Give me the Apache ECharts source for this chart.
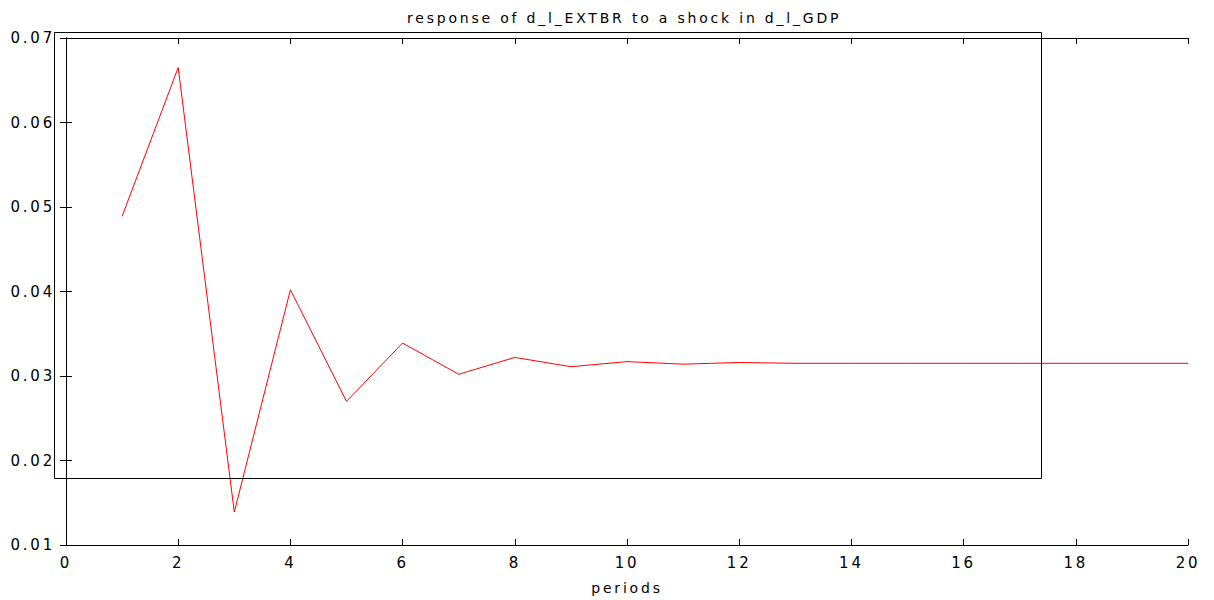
<!DOCTYPE html>
<html>
<head>
<meta charset="utf-8">
<script src="https://cdn.jsdelivr.net/npm/echarts@6/dist/echarts.min.js"></script>
<style>
html, body { margin: 0; padding: 0; background: #fff; }
#main { width: 1214px; height: 600px; }
/* the reference uses a wide, spaced-out font */
#main svg text { letter-spacing: 2.8px; }
</style>
</head>
<body>
<div id="main"></div>
<script>
var titleText = 'response of d_l_EXTBR to a shock in d_l_GDP';
var xName = 'periods';
var periods = [1, 2, 3, 4, 5, 6, 7, 8, 9, 10, 11, 12, 13, 14, 15, 16, 17, 18, 19, 20];
var response = [0.0489, 0.0665, 0.0139, 0.0402, 0.0270, 0.0339, 0.0302, 0.0322, 0.0311, 0.0317,
	0.0314, 0.0316, 0.0315, 0.0315, 0.0315, 0.0315, 0.0315, 0.0315, 0.0315, 0.0315];

var myChart = echarts.init(document.getElementById('main'), null, { renderer: 'svg' });
var font = 'DejaVu Sans';
var lineData = periods.map(function(p, i) { return [p, response[i]]; });

var option = {
	animation: false,
	title: {
		text: titleText,
		left: 402,
		top: 6,
		textStyle: { fontFamily: font, fontSize: 14, fontWeight: 'normal', color: '#000' }
	},
	grid: { left: 66, right: 26, top: 38, bottom: 54 },
	xAxis: [{
		type: 'value',
		min: 0, max: 20, interval: 2,
		name: xName,
		nameLocation: 'middle',
		nameGap: 36,
		nameTextStyle: { fontFamily: font, fontSize: 14, color: '#000' },
		axisLine: { lineStyle: { color: '#000' } },
		axisTick: { inside: true, length: 6, lineStyle: { color: '#000' } },
		axisLabel: { fontFamily: font, fontSize: 15, color: '#000', margin: 10 },
		splitLine: { show: false }
	}, {
		type: 'value',
		position: 'top',
		min: 0, max: 20, interval: 2,
		axisLine: { lineStyle: { color: '#000' } },
		axisTick: { inside: true, length: 6, lineStyle: { color: '#000' } },
		axisLabel: { show: false },
		splitLine: { show: false }
	}],
	yAxis: [{
		type: 'value',
		min: 0.01, max: 0.07, interval: 0.01,
		axisLine: { show: true, lineStyle: { color: '#000' } },
		axisTick: { show: true, inside: true, length: 6, lineStyle: { color: '#000' } },
		axisLabel: {
			fontFamily: font, fontSize: 15, color: '#000', margin: 11,
			formatter: function(v) { return v.toFixed(2); }
		},
		splitLine: { show: false }
	}, {
		type: 'value',
		position: 'right',
		min: 0.01, max: 0.07, interval: 0.01,
		axisLine: { show: true, lineStyle: { color: '#000' } },
		axisTick: { show: true, inside: true, length: 6, lineStyle: { color: '#000' } },
		axisLabel: { show: false },
		splitLine: { show: false }
	}],
	series: [{
		type: 'line',
		data: lineData,
		showSymbol: false,
		lineStyle: { color: '#ff0000', width: 1 },
		itemStyle: { color: '#ff0000' }
	}],
	graphic: [{
		type: 'rect',
		shape: { x: 54.5, y: 32.5, width: 987, height: 446 },
		style: { fill: 'none', stroke: '#000', lineWidth: 1 },
		z: 10
	}]
};
myChart.setOption(option);
</script>
</body>
</html>
